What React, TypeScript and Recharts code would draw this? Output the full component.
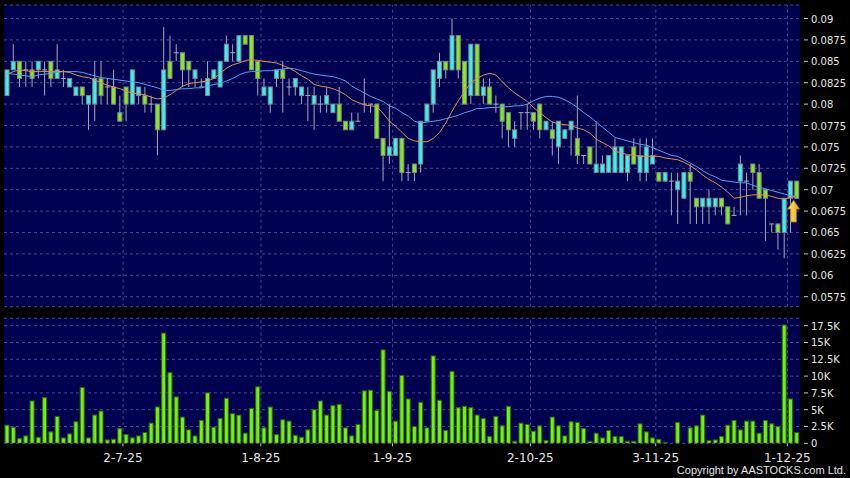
import React from 'react';
import { ComposedChart, Bar, Line, XAxis, YAxis, CartesianGrid, ReferenceLine, ReferenceDot } from 'recharts';

const openP = [
  0.081, 0.084, 0.085, 0.084, 0.084, 0.084, 0.084, 0.085, 0.083, 0.083,
  0.082, 0.081, 0.082, 0.080, 0.080, 0.083, 0.082, 0.082, 0.079, 0.082,
  0.080, 0.081, 0.081, 0.080, 0.080, 0.077, 0.085, 0.086, 0.086, 0.085,
  0.083, 0.082, 0.081, 0.083, 0.082, 0.085, 0.086, 0.085, 0.088, 0.088,
  0.085, 0.081, 0.080, 0.083, 0.084, 0.082, 0.082, 0.081, 0.081, 0.080,
  0.080, 0.080, 0.079, 0.080, 0.078, 0.077, 0.078, 0.080, 0.080, 0.080,
  0.076, 0.074, 0.074, 0.076, 0.072, 0.073, 0.073, 0.078, 0.080, 0.083,
  0.085, 0.084, 0.088, 0.085, 0.081, 0.087, 0.081, 0.082, 0.080, 0.080,
  0.079, 0.076, 0.079, 0.079, 0.079, 0.080, 0.077, 0.077, 0.075, 0.076,
  0.077, 0.076, 0.074, 0.075, 0.072, 0.072, 0.072, 0.072, 0.072, 0.072,
  0.075, 0.072, 0.072, 0.073, 0.072, 0.071, 0.071, 0.070, 0.069, 0.072,
  0.069, 0.068, 0.068, 0.068, 0.069, 0.068, 0.067, 0.071, 0.071, 0.073,
  0.072, 0.070, 0.066, 0.066, 0.065, 0.069, 0.071,
];
const closeP = [
  0.084, 0.085, 0.083, 0.084, 0.083, 0.085, 0.084, 0.083, 0.084, 0.083,
  0.083, 0.082, 0.081, 0.081, 0.083, 0.081, 0.082, 0.080, 0.078, 0.080,
  0.084, 0.082, 0.080, 0.080, 0.077, 0.084, 0.083, 0.086, 0.084, 0.084,
  0.084, 0.082, 0.083, 0.084, 0.085, 0.087, 0.086, 0.088, 0.087, 0.084,
  0.083, 0.082, 0.082, 0.084, 0.083, 0.082, 0.083, 0.082, 0.081, 0.081,
  0.080, 0.081, 0.080, 0.078, 0.077, 0.078, 0.078, 0.080, 0.080, 0.076,
  0.074, 0.075, 0.076, 0.072, 0.072, 0.072, 0.078, 0.080, 0.084, 0.085,
  0.084, 0.088, 0.084, 0.080, 0.087, 0.081, 0.082, 0.080, 0.080, 0.078,
  0.077, 0.077, 0.079, 0.079, 0.078, 0.077, 0.078, 0.076, 0.078, 0.077,
  0.078, 0.074, 0.074, 0.073, 0.073, 0.073, 0.074, 0.075, 0.075, 0.074,
  0.073, 0.074, 0.075, 0.074, 0.071, 0.072, 0.071, 0.071, 0.072, 0.071,
  0.068, 0.069, 0.069, 0.069, 0.068, 0.066, 0.067, 0.073, 0.071, 0.072,
  0.069, 0.069, 0.066, 0.065, 0.069, 0.071, 0.069,
];
const highP = [
  0.084, 0.087, 0.085, 0.085, 0.085, 0.085, 0.085, 0.085, 0.087, 0.084,
  0.083, 0.082, 0.082, 0.081, 0.085, 0.085, 0.083, 0.084, 0.081, 0.082,
  0.084, 0.082, 0.082, 0.081, 0.080, 0.089, 0.088, 0.087, 0.086, 0.085,
  0.084, 0.083, 0.085, 0.084, 0.085, 0.088, 0.087, 0.088, 0.088, 0.088,
  0.085, 0.083, 0.082, 0.084, 0.085, 0.083, 0.083, 0.082, 0.082, 0.082,
  0.081, 0.082, 0.080, 0.082, 0.078, 0.079, 0.079, 0.083, 0.080, 0.080,
  0.076, 0.080, 0.076, 0.076, 0.073, 0.073, 0.078, 0.080, 0.084, 0.086,
  0.085, 0.090, 0.088, 0.085, 0.087, 0.087, 0.083, 0.083, 0.081, 0.080,
  0.079, 0.078, 0.079, 0.080, 0.079, 0.080, 0.078, 0.078, 0.078, 0.077,
  0.078, 0.081, 0.074, 0.075, 0.078, 0.074, 0.074, 0.076, 0.075, 0.074,
  0.076, 0.076, 0.076, 0.076, 0.072, 0.072, 0.072, 0.072, 0.072, 0.073,
  0.069, 0.069, 0.070, 0.069, 0.069, 0.068, 0.068, 0.074, 0.072, 0.073,
  0.073, 0.070, 0.066, 0.066, 0.069, 0.071, 0.071,
];
const lowP = [
  0.081, 0.084, 0.082, 0.082, 0.082, 0.083, 0.081, 0.082, 0.083, 0.082,
  0.082, 0.081, 0.080, 0.077, 0.078, 0.080, 0.080, 0.080, 0.078, 0.078,
  0.080, 0.080, 0.079, 0.079, 0.074, 0.077, 0.083, 0.085, 0.082, 0.082,
  0.082, 0.082, 0.081, 0.083, 0.082, 0.085, 0.085, 0.085, 0.087, 0.084,
  0.081, 0.081, 0.079, 0.082, 0.079, 0.081, 0.081, 0.080, 0.078, 0.077,
  0.079, 0.079, 0.079, 0.078, 0.077, 0.077, 0.078, 0.079, 0.079, 0.076,
  0.071, 0.073, 0.074, 0.071, 0.071, 0.071, 0.072, 0.078, 0.079, 0.082,
  0.083, 0.084, 0.083, 0.080, 0.080, 0.081, 0.080, 0.080, 0.079, 0.076,
  0.075, 0.075, 0.077, 0.077, 0.077, 0.076, 0.077, 0.074, 0.073, 0.076,
  0.074, 0.073, 0.073, 0.073, 0.072, 0.072, 0.072, 0.072, 0.072, 0.071,
  0.073, 0.071, 0.071, 0.073, 0.071, 0.071, 0.067, 0.066, 0.069, 0.066,
  0.066, 0.066, 0.066, 0.067, 0.067, 0.066, 0.067, 0.067, 0.067, 0.070,
  0.069, 0.064, 0.065, 0.063, 0.062, 0.065, 0.069,
];
const maShort = [
  0.0835, 0.0838, 0.0840, 0.0839, 0.0838, 0.0838, 0.0838, 0.0838, 0.0838, 0.0838,
  0.0837, 0.0834, 0.0832, 0.0831, 0.0828, 0.0825, 0.0822, 0.0820, 0.0818, 0.0815,
  0.0813, 0.0812, 0.0811, 0.0808, 0.0806, 0.0807, 0.0811, 0.0816, 0.0821, 0.0824,
  0.0825, 0.0826, 0.0827, 0.0830, 0.0836, 0.0842, 0.0846, 0.0848, 0.0851, 0.0852,
  0.0851, 0.0850, 0.0849, 0.0848, 0.0845, 0.0842, 0.0838, 0.0833, 0.0829, 0.0823,
  0.0821, 0.0820, 0.0818, 0.0815, 0.0811, 0.0805, 0.0802, 0.0799, 0.0798, 0.0797,
  0.0789, 0.0780, 0.0774, 0.0767, 0.0760, 0.0757, 0.0756, 0.0756, 0.0760, 0.0767,
  0.0778, 0.0792, 0.0804, 0.0815, 0.0825, 0.0830, 0.0834, 0.0836, 0.0834, 0.0826,
  0.0819, 0.0813, 0.0808, 0.0803, 0.0796, 0.0790, 0.0784, 0.0779, 0.0777, 0.0776,
  0.0775, 0.0772, 0.0770, 0.0766, 0.0759, 0.0755, 0.0751, 0.0745, 0.0743, 0.0741,
  0.0740, 0.0739, 0.0739, 0.0739, 0.0739, 0.0737, 0.0736, 0.0735, 0.0732, 0.0728,
  0.0723, 0.0717, 0.0712, 0.0708, 0.0703, 0.0697, 0.0690, 0.0691, 0.0693, 0.0694,
  0.0694, 0.0694, 0.0692, 0.0690, 0.0689, 0.0691, 0.0692,
];
const maLong = [
  0.0836, 0.0835, 0.0834, 0.0833, 0.0832, 0.0834, 0.0835, 0.0836, 0.0837, 0.0838,
  0.0838, 0.0838, 0.0837, 0.0835, 0.0833, 0.0831, 0.0830, 0.0829, 0.0828, 0.0827,
  0.0826, 0.0825, 0.0823, 0.0821, 0.0819, 0.0816, 0.0816, 0.0817, 0.0818, 0.0818,
  0.0819, 0.0819, 0.0821, 0.0823, 0.0824, 0.0827, 0.0830, 0.0834, 0.0837, 0.0838,
  0.0838, 0.0839, 0.0839, 0.0840, 0.0841, 0.0842, 0.0841, 0.0839, 0.0837, 0.0835,
  0.0834, 0.0833, 0.0832, 0.0830, 0.0827, 0.0821, 0.0817, 0.0813, 0.0809, 0.0806,
  0.0803, 0.0798, 0.0795, 0.0790, 0.0786, 0.0780, 0.0778, 0.0779, 0.0780, 0.0781,
  0.0783, 0.0785, 0.0787, 0.0790, 0.0792, 0.0795, 0.0795, 0.0796, 0.0796, 0.0797,
  0.0797, 0.0798, 0.0798, 0.0800, 0.0804, 0.0807, 0.0809, 0.0809, 0.0808, 0.0805,
  0.0801, 0.0796, 0.0790, 0.0785, 0.0779, 0.0773, 0.0767, 0.0761, 0.0759, 0.0757,
  0.0755, 0.0753, 0.0752, 0.0749, 0.0746, 0.0743, 0.0740, 0.0739, 0.0735, 0.0731,
  0.0727, 0.0722, 0.0718, 0.0715, 0.0711, 0.0710, 0.0709, 0.0708, 0.0708, 0.0705,
  0.0703, 0.0701, 0.0699, 0.0697, 0.0695, 0.0693, 0.0692,
];
const volumeK = [
  2.7, 2.4, 0.7, 1.1, 6.3, 0.9, 6.8, 1.7, 4.0, 0.8,
  1.4, 3.2, 8.3, 0.8, 4.2, 4.8, 0.5, 0.6, 2.2, 1.3,
  0.8, 1.1, 1.6, 3.0, 5.4, 16.4, 10.5, 6.9, 3.9, 2.0,
  1.1, 3.4, 7.5, 2.4, 3.7, 6.7, 4.4, 4.2, 1.5, 5.2,
  8.4, 2.3, 5.4, 1.3, 3.5, 3.3, 1.2, 0.9, 2.0, 5.0,
  6.3, 4.2, 5.6, 5.8, 2.3, 1.1, 2.8, 7.8, 7.9, 4.9,
  13.9, 7.7, 3.3, 10.1, 6.6, 2.5, 6.1, 2.3, 13.0, 6.4,
  1.9, 10.7, 5.3, 5.5, 5.3, 4.2, 3.7, 1.0, 4.0, 2.6,
  5.5, 0.3, 3.0, 2.8, 1.8, 2.6, 0.4, 3.9, 2.6, 1.1,
  3.2, 3.1, 2.2, 0.3, 1.5, 0.8, 1.9, 1.0, 1.0, 0.3,
  0.3, 2.9, 1.7, 0.8, 0.6, 0.15, 0, 3.1, 0, 2.3,
  2.6, 4.2, 0.4, 0.5, 1.0, 2.7, 3.4, 2.0, 3.3, 3.3,
  1.5, 3.4, 2.9, 2.5, 17.6, 6.6, 1.6,
];
const dateTickIndex = [18, 40, 61, 83, 103, 124];
const dateTickLabels = ['2-7-25', '1-8-25', '1-9-25', '2-10-25', '3-11-25', '1-12-25'];
const priceTicks = [0.0575, 0.06, 0.0625, 0.065, 0.0675, 0.07, 0.0725, 0.075, 0.0775, 0.08, 0.0825, 0.085, 0.0875, 0.09];
const volumeTicks = [0, 2.5, 5, 7.5, 10, 12.5, 15, 17.5];
const arrowIndex = 125;
const arrowPrice = 0.0675;

const rows = openP.map((o, i) => ({
  i,
  o,
  c: closeP[i],
  h: highP[i],
  l: lowP[i],
  range: [lowP[i], highP[i]],
  maShort: maShort[i],
  maLong: maLong[i],
  vol: volumeK[i],
}));

const NAVY = '#000050';
const GRID = '#4a4a90';
const CYAN = '#38f0f0';
const GREEN = '#86ea18';
const BODY_EDGE = '#7a8888';
const WICK = '#a9a9b8';
const VOL_FILL = '#72f012';
const VOL_EDGE = '#2e6a08';
const LABEL = '#e6e6e6';
const FONT = 'DejaVu Sans';

const Candle = (props: any) => {
  const { x, y, width, height, payload } = props;
  if (x == null || y == null) return null;
  const top = Math.min(y, y + height);
  const hgt = Math.abs(height);
  const { o, c, h, l } = payload;
  const span = h - l;
  const ppu = span > 0 ? hgt / span : 0;
  const hiBody = Math.max(o, c);
  const loBody = Math.min(o, c);
  const yTop = top + (h - hiBody) * ppu;
  const yBot = top + (h - loBody) * ppu;
  const cx = x + width / 2;
  return (
    <g>
      <line x1={cx} x2={cx} y1={top} y2={top + hgt} stroke={WICK} strokeWidth={1} />
      {o === c ? (
        <line x1={x} x2={x + width} y1={yTop} y2={yTop} stroke={WICK} strokeWidth={1} />
      ) : (
        <rect
          x={x + 0.5}
          y={yTop}
          width={width - 1}
          height={yBot - yTop}
          fill={c > o ? CYAN : GREEN}
          stroke={BODY_EDGE}
          strokeWidth={1}
        />
      )}
    </g>
  );
};

const VolBar = (props: any) => {
  const { x, y, width, height } = props;
  if (!height || height <= 0) return null;
  return <rect x={x + 0.5} y={y} width={width - 1} height={height} fill={VOL_FILL} stroke={VOL_EDGE} strokeWidth={1} />;
};

const fmtPrice = (v: number) => String(+v.toFixed(4));
const fmtVol = (v: number) => (v === 0 ? '0' : `${v}K`);

const RightTick = (fmt: (v: number) => string) => (props: any) => {
  const { x, y, payload } = props;
  return (
    <g>
      <line x1={x + 4} x2={x + 8} y1={y} y2={y} stroke="#c8c8c8" strokeWidth={1} />
      <text x={x + 11} y={y} dy={4} fill={LABEL} fontSize={10} fontFamily={FONT} textAnchor="start">
        {fmt(payload.value)}
      </text>
    </g>
  );
};

const DateTick = (props: any) => {
  const { x, y, payload } = props;
  const k = dateTickIndex.indexOf(payload.value);
  return (
    <g>
      <line x1={x + 3} x2={x + 3} y1={y} y2={y + 3} stroke="#c8c8c8" strokeWidth={1} />
      <text x={x + 3} y={y + 19} fill={LABEL} fontSize={12} fontFamily={FONT} textAnchor="middle">
        {k >= 0 ? dateTickLabels[k] : ''}
      </text>
    </g>
  );
};

const Arrow = (props: any) => {
  const { cx, cy } = props;
  if (cx == null || cy == null) return null;
  const x0 = cx + 3;
  const d = `M ${x0} ${cy - 11} L ${x0 + 6} ${cy - 2} L ${x0 + 3} ${cy - 2} L ${x0 + 3} ${cy + 11} L ${x0 - 3} ${cy + 11} L ${x0 - 3} ${cy - 2} L ${x0 - 6} ${cy - 2} Z`;
  return (
    <g>
      <defs>
        <linearGradient id="arrowGrad" x1="0" y1="0" x2="1" y2="0">
          <stop offset="0%" stopColor="#ffe680" />
          <stop offset="100%" stopColor="#e8a800" />
        </linearGradient>
      </defs>
      <path d={d} fill="url(#arrowGrad)" stroke="#a87000" strokeWidth={0.8} />
    </g>
  );
};

export default function App() {
  return (
    <div style={{ position: 'relative', width: 850, height: 478, background: '#000', overflow: 'hidden' }}>
      <style>{'body{margin:0;background:#000;}'}</style>
      <div style={{ position: 'absolute', left: 0, top: 0 }}>
        <ComposedChart
          width={850}
          height={312}
          data={rows}
          margin={{ top: 5, right: 0, bottom: 5.3, left: 4 }}
          barCategoryGap="8%"
        >
          <CartesianGrid vertical={false} stroke={GRID} strokeDasharray="3 3" fill={NAVY} fillOpacity={1} />
          <XAxis dataKey="i" type="category" hide />
          <YAxis
            orientation="right"
            width={50}
            domain={[0.05633, 0.09158]}
            ticks={priceTicks}
            allowDataOverflow
            axisLine={false}
            tickLine={false}
            tickSize={0}
            tickMargin={0}
            interval={0}
            tick={RightTick(fmtPrice)}
          />
          {dateTickIndex.map((t) => (
            <ReferenceLine key={t} x={t} position="end" stroke={GRID} strokeDasharray="3 3" ifOverflow="extendDomain" />
          ))}
          <Bar dataKey="range" shape={<Candle />} isAnimationActive={false} />
          <Line dataKey="maLong" stroke="#4aa6ee" strokeWidth={1} dot={false} isAnimationActive={false} />
          <Line dataKey="maShort" stroke="#e58a50" strokeWidth={1} dot={false} isAnimationActive={false} />
          <ReferenceDot x={arrowIndex} y={arrowPrice} shape={<Arrow />} ifOverflow="visible" />
        </ComposedChart>
      </div>
      <div style={{ position: 'absolute', left: 0, top: 312 }}>
        <ComposedChart
          width={850}
          height={166}
          data={rows}
          margin={{ top: 6.3, right: 0, bottom: 0, left: 4 }}
          barCategoryGap="8%"
        >
          <CartesianGrid vertical={false} stroke={GRID} strokeDasharray="3 3" fill={NAVY} fillOpacity={1} />
          <XAxis
            dataKey="i"
            type="category"
            height={34.7}
            ticks={dateTickIndex}
            interval={0}
            axisLine={false}
            tickLine={false}
            tickSize={0}
            tickMargin={0}
            tick={<DateTick />}
          />
          <YAxis
            orientation="right"
            width={50}
            domain={[0, 18.6]}
            ticks={volumeTicks}
            allowDataOverflow
            axisLine={false}
            tickLine={false}
            tickSize={0}
            tickMargin={0}
            interval={0}
            tick={RightTick(fmtVol)}
          />
          {dateTickIndex.map((t) => (
            <ReferenceLine key={t} x={t} position="end" stroke={GRID} strokeDasharray="3 3" />
          ))}
          <Bar dataKey="vol" shape={<VolBar />} isAnimationActive={false} />
        </ComposedChart>
      </div>
      <div
        style={{
          position: 'absolute',
          right: 4,
          top: 463,
          color: LABEL,
          fontFamily: 'Liberation Sans',
          fontSize: 11,
          lineHeight: '14px',
          whiteSpace: 'nowrap',
        }}
      >
        Copyright by AASTOCKS.com Ltd.
      </div>
    </div>
  );
}
